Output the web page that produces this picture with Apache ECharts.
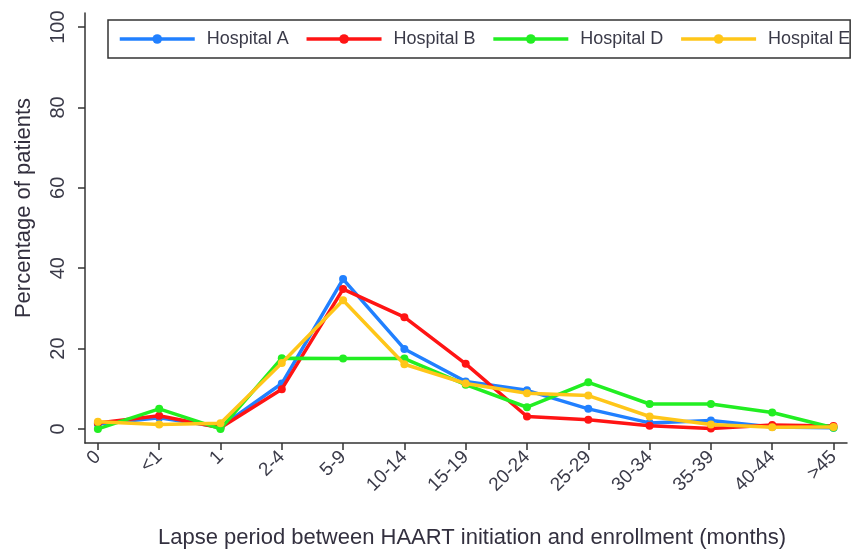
<!DOCTYPE html>
<html>
<head>
<meta charset="utf-8">
<script src="https://cdn.jsdelivr.net/npm/echarts@6/dist/echarts.min.js"></script>
<style>
html,body{margin:0;padding:0;background:#fff;}
#chart{width:856px;height:557px;}
</style>
</head>
<body>
<div id="chart"></div>
<script>
var categories = ['0','<1','1','2-4','5-9','10-14','15-19','20-24','25-29','30-34','35-39','40-44','>45'];
var hospitalA = [1.2, 2.8, 0.5, 11.3, 37.3, 19.9, 11.8, 9.6, 5.0, 1.5, 2.1, 0.5, 0.3];
var hospitalB = [1.5, 3.3, 0.3, 9.9, 34.8, 27.8, 16.2, 3.1, 2.3, 0.8, 0.1, 1.0, 0.7];
var hospitalD = [0.0, 5.0, 0.0, 17.6, 17.5, 17.5, 11.0, 5.4, 11.6, 6.2, 6.2, 4.1, 0.3];
var hospitalE = [1.8, 1.1, 1.4, 16.4, 32.0, 16.1, 11.3, 8.9, 8.3, 3.1, 1.1, 0.4, 0.5];
var yTicks = [0, 20, 40, 60, 80, 100];
var seriesNames = ['Hospital A', 'Hospital B', 'Hospital D', 'Hospital E'];
var seriesColors = ['#2180ff', '#ff1414', '#22ee22', '#ffc619'];

function pairs(arr) { return arr.map(function (v, i) { return [i, v]; }); }
var allData = [hospitalA, hospitalB, hospitalD, hospitalE];
var xIdx = categories.map(function (c, i) { return i; });

var font = 'Liberation Sans, Arial, sans-serif';
var chart = echarts.init(document.getElementById('chart'), null, {renderer: 'canvas'});
chart.setOption({
  animation: false,
  backgroundColor: '#fff',
  textStyle: {fontFamily: font},
  grid: {left: 85, right: 9, top: 13, bottom: 114, containLabel: false},
  legend: {
    left: 108, top: 20, width: 800,
    padding: [10, 0, 10, 10],
    itemGap: 16, itemWidth: 75, itemHeight: 12,
    borderColor: '#333', borderWidth: 1.5,
    lineStyle: {width: 3.5},
    textStyle: {fontSize: 18, color: '#3a3a48', fontFamily: font, padding: [0, 0, 0, 7]},
    data: seriesNames
  },
  xAxis: {
    type: 'value', min: -0.21, max: 12.22,
    name: 'Lapse period between HAART initiation and enrollment (months)',
    nameLocation: 'middle', nameGap: 84,
    nameTextStyle: {fontSize: 22, color: '#33303f', fontFamily: font, padding: [0, 0, 0, 12]},
    axisLine: {show: true, onZero: false, lineStyle: {color: '#333', width: 1.5}},
    axisTick: {show: true, length: 7, customValues: xIdx, lineStyle: {color: '#333', width: 1.5}},
    axisLabel: {
      customValues: xIdx, rotate: 45, margin: 11, fontSize: 19, color: '#3a3a48', fontFamily: font,
      formatter: function (v) { return categories[Math.round(v)]; }
    },
    splitLine: {show: false}
  },
  yAxis: {
    type: 'value', min: -3.5, max: 103.5,
    name: 'Percentage of patients',
    nameLocation: 'middle', nameGap: 50, nameRotate: 90,
    nameTextStyle: {fontSize: 22, color: '#33303f', fontFamily: font, padding: [0, 0, 0, 40]},
    axisLine: {show: true, onZero: false, lineStyle: {color: '#333', width: 1.5}},
    axisTick: {show: true, length: 7, customValues: yTicks, lineStyle: {color: '#333', width: 1.5}},
    axisLabel: {customValues: yTicks, rotate: 90, margin: 17, fontSize: 20, color: '#3a3a48', fontFamily: font},
    splitLine: {show: false}
  },
  series: seriesNames.map(function (n, k) {
    return {
      name: n, type: 'line', data: pairs(allData[k]),
      symbol: 'circle', symbolSize: 8,
      lineStyle: {width: 3.5, color: seriesColors[k]},
      itemStyle: {color: seriesColors[k]},
      z: 2 + k
    };
  })
});
</script>
</body>
</html>
